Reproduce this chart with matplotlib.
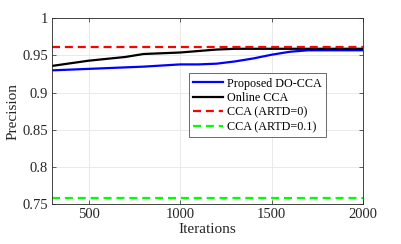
import numpy as np
import matplotlib
matplotlib.use('Agg')
import matplotlib.pyplot as plt

plt.rcParams['font.family'] = ['Liberation Serif', 'DejaVu Serif']
plt.rcParams['mathtext.fontset'] = 'stix'

# Data
iters = [300, 500, 700, 800, 1000, 1100, 1200, 1300, 1400, 1500, 1600, 1700, 1800, 1900, 2000]
proposed = [0.930, 0.932, 0.934, 0.935, 0.938, 0.938, 0.939, 0.942, 0.946, 0.951, 0.955, 0.957, 0.957, 0.957, 0.957]
online = [0.936, 0.943, 0.948, 0.952, 0.954, 0.956, 0.958, 0.959, 0.959, 0.959, 0.959, 0.959, 0.959, 0.959, 0.959]
cca_artd0 = 0.961
cca_artd01 = 0.758

fig, ax = plt.subplots(figsize=(4.01, 2.44), dpi=100)
fig.subplots_adjust(left=0.13, right=0.905, top=0.925, bottom=0.163)

dash = (0, (3.6, 2.2))
ax.plot(iters, proposed, color='#0000ff', linewidth=1.6, label='Proposed DO-CCA')
ax.plot(iters, online, color='black', linewidth=1.6, label='Online CCA')
ax.plot([iters[0], iters[-1]], [cca_artd0] * 2, color='#ff0000', linestyle=dash,
        linewidth=1.6, label='CCA (ARTD=0)')
ax.plot([iters[0], iters[-1]], [cca_artd01] * 2, color='#00ff00', linestyle=dash,
        linewidth=1.6, label='CCA (ARTD=0.1)')

ax.set_xlim(300, 2000)
ax.set_ylim(0.75, 1.0)
ax.set_xticks([500, 1000, 1500, 2000])
ax.set_yticks([0.75, 0.8, 0.85, 0.9, 0.95, 1.0])
ax.set_yticklabels(['0.75', '0.8', '0.85', '0.9', '0.95', '1'])
ax.tick_params(direction='in', top=True, right=True, labelsize=10.5, colors='#262626',
               length=3, width=0.5, pad=3)
ax.grid(True, color='#e6e6e6', linewidth=0.6)
for s in ax.spines.values():
    s.set_color('#262626')
    s.set_linewidth(0.6)

ax.set_xlabel('Iterations', fontsize=11, color='#262626', labelpad=1)
ax.set_ylabel('Precision', fontsize=11, color='#262626', labelpad=2)

leg = ax.legend(loc='upper left', bbox_to_anchor=(0.44, 0.704), fontsize=8.7, frameon=True,
                fancybox=False, handlelength=2.5, handletextpad=0.3, borderpad=0.35,
                labelspacing=0.2, borderaxespad=0)
leg.get_frame().set_edgecolor('#262626')
leg.get_frame().set_linewidth(0.6)

fig.savefig('out.png', dpi=100)
